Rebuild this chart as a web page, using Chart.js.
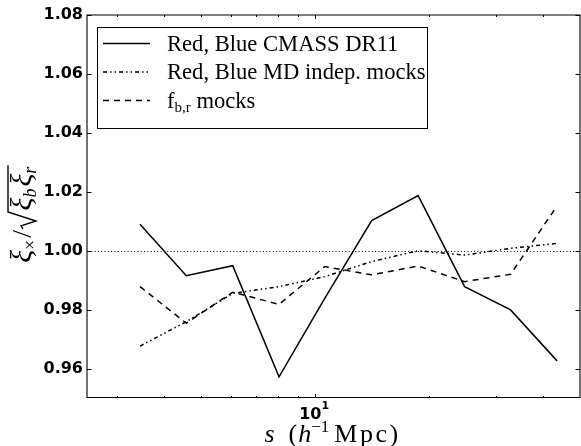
<!DOCTYPE html>
<html><head><meta charset="utf-8">
<script src="https://cdn.jsdelivr.net/npm/chart.js@4/dist/chart.umd.min.js"></script>
<style>html,body{margin:0;padding:0;background:#fff}</style>
</head><body>
<canvas id="c" width="581" height="446" style="width:581px;height:446px;display:block"></canvas>
<script>
// ---- data ----
const sValues      = [3.45, 4.57, 6.06, 8.03, 10.6, 14.1, 18.7, 24.8, 32.8, 43.5];
const cmassDR11    = [1.0090, 0.9915, 0.9949, 0.9572, 0.9838, 1.0102, 1.0187, 0.9878, 0.9799, 0.9626];
const mdIndepMocks = [0.9676, 0.9759, 0.9855, 0.9878, 0.9912, 0.9963, 1.0000, 0.9985, 1.0008, 1.0025];
const fbrMocks     = [0.9878, 0.9754, 0.9859, 0.9818, 0.9946, 0.9918, 0.9948, 0.9895, 0.9920, 1.0152];
const seriesLabels = ['Red, Blue CMASS DR11', 'Red, Blue MD indep. mocks', 'f|b,r| mocks'];
const yTickValues  = [0.96, 0.98, 1.00, 1.02, 1.04, 1.06, 1.08];
const xTickValues  = [3, 4, 5, 6, 7, 8, 9, 10, 20, 30, 40];
const xMajorTicks  = [10];
const xRange = [2.5, 50];
const yRange = [0.95, 1.08];
const referenceLevel = 1.0;

const SERIF = '"Liberation Serif", "Times New Roman", serif';
const SANS = '"DejaVu Sans", sans-serif';
const dashStyles = [[], [4, 3, 1.5, 3, 1.5, 3], [6, 5]];

function pts(ys) { return sValues.map((s, i) => ({ x: s, y: ys[i] })); }

const datasets = [cmassDR11, mdIndepMocks, fbrMocks].map((ys, i) => ({
  label: seriesLabels[i].replace(/\|/g, ''),
  data: pts(ys),
  borderColor: '#000',
  borderWidth: 1.5,
  borderDash: dashStyles[i],
  pointRadius: 0,
  fill: false,
  tension: 0
}));

const decorPlugin = {
  id: 'decor',
  beforeDatasetsDraw(chart) {
    const { ctx, chartArea: ca, scales: { y } } = chart;
    const py = Math.round(y.getPixelForValue(referenceLevel)) + 0.5;
    ctx.save();
    ctx.strokeStyle = '#000';
    ctx.lineWidth = 1;
    ctx.setLineDash([1, 2.3]);
    ctx.beginPath();
    ctx.moveTo(ca.left + 1, py);
    ctx.lineTo(ca.right, py);
    ctx.stroke();
    ctx.restore();
  },
  afterDraw(chart) {
    const { ctx, chartArea: ca, scales: { x, y } } = chart;
    ctx.save();
    // frame
    ctx.strokeStyle = '#000';
    ctx.lineWidth = 1.1;
    ctx.setLineDash([]);
    ctx.beginPath();
    ctx.moveTo(ca.left, ca.top); ctx.lineTo(ca.right, ca.top);
    ctx.lineTo(ca.right, ca.bottom - 0.5); ctx.lineTo(ca.left, ca.bottom - 0.5);
    ctx.closePath();
    ctx.stroke();
    // ticks (inward, all sides)
    ctx.lineWidth = 1;
    ctx.beginPath();
    yTickValues.forEach(v => {
      const p = Math.round(y.getPixelForValue(v)) + 0.5;
      ctx.moveTo(ca.left, p); ctx.lineTo(ca.left + 4.5, p);
      ctx.moveTo(ca.right, p); ctx.lineTo(ca.right - 4.5, p);
    });
    xTickValues.forEach(v => {
      const p = Math.round(x.getPixelForValue(v)) + 0.5;
      const len = xMajorTicks.includes(v) ? 4 : 2;
      ctx.moveTo(p, ca.bottom); ctx.lineTo(p, ca.bottom - len);
      ctx.moveTo(p, ca.top); ctx.lineTo(p, ca.top + len);
    });
    ctx.stroke();

    // x tick label 10^1
    ctx.fillStyle = '#000';
    ctx.textBaseline = 'alphabetic';
    xMajorTicks.forEach(v => {
      const p = x.getPixelForValue(v);
      const base = String(Math.round(v)), exp = String(Math.round(Math.log10(v)));
      ctx.font = 'bold 16px ' + SANS;
      const w1 = ctx.measureText(base).width;
      ctx.font = 'bold 11px ' + SANS;
      const w2 = ctx.measureText(exp).width;
      const x0 = p - (w1 + w2) / 2 - 1;
      ctx.font = 'bold 16px ' + SANS;
      ctx.textAlign = 'left';
      ctx.fillText(base, x0, ca.bottom + 20.5);
      ctx.font = 'bold 11px ' + SANS;
      ctx.fillText(exp, x0 + w1, ca.bottom + 11);
    });

    // x axis title: s  (h^-1 Mpc)
    drawRuns(ctx, [
      { t: 's', f: 'italic 26px ' + SERIF, dy: 0 },
      { t: '(', f: '26px ' + SERIF, dy: 0, gap: 14 },
      { t: 'h', f: 'italic 26px ' + SERIF, dy: 0, gap: 1 },
      { t: '\u22121', f: '17px ' + SERIF, dy: -10 },
      { t: 'Mpc)', f: '26px ' + SERIF, dy: 0, gap: 5, ls: 2.5 }
    ], (ca.left + ca.right) / 2 - 1, 442, 0);

    // y axis title: xi_x / sqrt(xi_b xi_r) (rotated)
    ctx.save();
    ctx.translate(31, 214);
    ctx.rotate(-Math.PI / 2);
    const fBig = 'italic 30px ' + SERIF, fSub = 'italic 18px ' + SERIF;
    const pre = [
      { t: '\u03be', f: fBig, dy: 0 },
      { t: '\u00d7', f: '18px ' + SERIF, dy: 5 },
      { t: '/', f: '28px ' + SERIF, dy: 0, gap: 2 }
    ];
    const rad = [
      { t: '\u03be', f: fBig, dy: 0 },
      { t: 'b', f: fSub, dy: 5 },
      { t: '\u03be', f: fBig, dy: 0, gap: 2 },
      { t: 'r', f: fSub, dy: 5 }
    ];
    const wPre = runsWidth(ctx, pre), wRad = runsWidth(ctx, rad);
    const radW = 18;
    const total = wPre + radW + wRad + 3;
    let u = -total / 2;
    drawRuns(ctx, pre, u, 0, 1);
    u += wPre;
    ctx.lineWidth = 1.4;
    ctx.beginPath();
    ctx.moveTo(u + 1, -8);
    ctx.lineTo(u + 4, -10);
    ctx.lineTo(u + 9, 5);
    ctx.lineTo(u + radW, -23);
    ctx.lineTo(u + radW + wRad + 3, -23);
    ctx.stroke();
    drawRuns(ctx, rad, u + radW + 1.5, 0, 1);
    ctx.restore();

    // legend
    const bx = ca.left + 10, by = ca.top + 12, bw = 330, bh = 101;
    ctx.fillStyle = '#fff';
    ctx.fillRect(bx, by, bw, bh);
    ctx.strokeStyle = '#000';
    ctx.lineWidth = 1;
    ctx.strokeRect(bx + 0.5, by + 0.5, bw, bh);
    seriesLabels.forEach((lab, i) => {
      const cy = by + 16.5 + i * 28.5;
      ctx.setLineDash(dashStyles[i]);
      ctx.lineWidth = 1.5;
      ctx.beginPath();
      ctx.moveTo(bx + 6, cy); ctx.lineTo(bx + 53, cy);
      ctx.stroke();
      ctx.setLineDash([]);
      ctx.fillStyle = '#000';
      const parts = lab.split('|');
      const runs = parts.map((t, k) => k % 2 === 1
        ? { t, f: '15px ' + SERIF, dy: 4 }
        : { t, f: '22.6px ' + SERIF, dy: 0 }).filter(r => r.t.length);
      drawRuns(ctx, runs, bx + 70, cy + 7, 1);
    });
    ctx.restore();
  }
};

function setLS(ctx, r) { ctx.font = r.f; ctx.letterSpacing = (r.ls || 0) + 'px'; }
function runsWidth(ctx, runs) {
  let w = 0;
  runs.forEach(r => { setLS(ctx, r); w += (r.gap || 0) + ctx.measureText(r.t).width; });
  ctx.letterSpacing = '0px';
  return w;
}
// align: 0 = centered at x, 1 = starting at x
function drawRuns(ctx, runs, x, yb, align) {
  const w = runsWidth(ctx, runs);
  let cx = align === 0 ? x - w / 2 : x;
  ctx.textAlign = 'left';
  ctx.textBaseline = 'alphabetic';
  ctx.fillStyle = '#000';
  runs.forEach(r => {
    setLS(ctx, r);
    cx += (r.gap || 0);
    if (r.t) ctx.fillText(r.t, cx, yb + r.dy);
    cx += ctx.measureText(r.t).width;
  });
  ctx.letterSpacing = '0px';
}

new Chart(document.getElementById('c'), {
  type: 'line',
  data: { datasets },
  options: {
    responsive: false,
    animation: false,
    devicePixelRatio: 1,
    layout: { padding: { top: 15, right: 1, left: 0, bottom: 0 } },
    plugins: { legend: { display: false }, tooltip: { enabled: false } },
    scales: {
      x: {
        type: 'logarithmic',
        min: xRange[0], max: xRange[1],
        grid: { display: false },
        border: { display: false },
        ticks: { display: false },
        afterBuildTicks: s => { s.ticks = xTickValues.map(v => ({ value: v, major: xMajorTicks.includes(v) })); },
        afterFit: s => { s.height = 48; }
      },
      y: {
        type: 'linear',
        min: yRange[0], max: yRange[1],
        grid: { display: false, drawTicks: false },
        border: { display: false },
        ticks: {
          padding: 4,
          color: '#000',
          font: { family: 'DejaVu Sans', weight: 'bold', size: 16 },
          callback: v => Number(v).toFixed(2)
        },
        afterBuildTicks: s => { s.ticks = yTickValues.map(v => ({ value: v })); },
        afterFit: s => { s.width = 87; }
      }
    }
  },
  plugins: [decorPlugin]
});
</script>
</body></html>
